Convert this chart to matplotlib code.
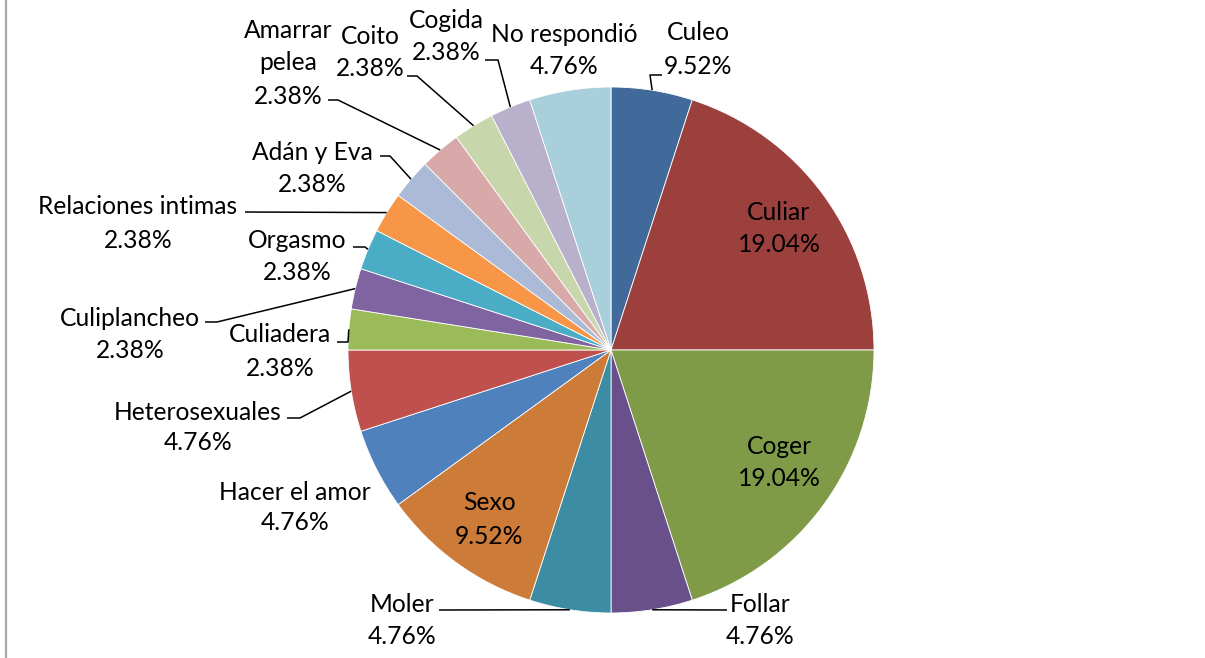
import matplotlib
matplotlib.use("Agg")
import matplotlib.pyplot as plt
import numpy as np
from matplotlib.lines import Line2D

# ---- data ----
categories = ["Culeo", "Culiar", "Coger", "Follar", "Moler", "Sexo",
              "Hacer el amor", "Heterosexuales", "Culiadera", "Culiplancheo",
              "Orgasmo", "Relaciones intimas", "Adán y Eva", "Amarrar\npelea",
              "Coito", "Cogida", "No respondió"]
counts = [2, 8, 8, 2, 2, 4, 2, 2, 1, 1, 1, 1, 1, 1, 1, 1, 2]
pct_labels = ["9.52%", "19.04%", "19.04%", "4.76%", "4.76%", "9.52%",
              "4.76%", "4.76%", "2.38%", "2.38%", "2.38%", "2.38%", "2.38%",
              "2.38%", "2.38%", "2.38%", "4.76%"]

colors = ["#416A9B", "#9C403E", "#7F9B48", "#69508A", "#3C8DA3", "#CC7B38",
          "#4F81BD", "#C0504D", "#9BBB59", "#8064A2", "#4BACC6", "#F79646",
          "#AABAD7", "#D9A9A9", "#C8D6AB", "#B9B0CC", "#A9CEDC"]

W, H = 1205, 658
fig = plt.figure(figsize=(W / 100, H / 100), dpi=100)
ax = fig.add_axes([0, 0, 1, 1])

cx, cy, R = 611, 350, 263  # pixel coords (y from top)

def P(x, y):
    return x, H - y

wedges, _ = ax.pie(counts, colors=colors, startangle=90, counterclock=False,
                   center=P(cx, cy), radius=R,
                   wedgeprops=dict(linewidth=0.6, edgecolor="white"))
ax.set_xlim(0, W)
ax.set_ylim(0, H)
ax.set_aspect("equal")
ax.axis("off")

FONT = "Lato"
FS = 17.7

# layout: label line positions (x center, y of each line) in pixels
layout = {
    0: (698, [33, 66]),
    1: (779, [212, 245]),
    2: (779, [446, 478]),
    3: (760, [604, 636]),
    4: (402, [605, 637]),
    5: (489, [503, 536]),
    6: (295, [492, 523]),
    7: (198, [412, 443]),
    8: (280, [335, 368]),
    9: (130, [318, 350]),
    10: (297, [240, 272]),
    11: (138, [206, 240]),
    12: (312, [153, 185]),
    13: (288, [30, 63, 97]),
    14: (370, [36, 68]),
    15: (446, [20, 53]),
    16: (564, [34, 67]),
}
# leader lines: list of points starting near label, ending on wedge edge
leaders = {
    0: [(662, 75), (650, 75)],
    3: [(727, 610)],
    4: [(439, 610)],
    7: [(287, 418), (300, 418)],
    8: [(337, 342), (348, 342)],
    9: [(205, 322), (217, 322)],
    10: [(353, 247), (365, 247)],
    11: [(245, 212)],
    12: [(380, 156), (390, 156)],
    13: [(328, 100), (338, 100)],
    14: [(407, 76), (417, 76)],
    15: [(485, 60), (498, 60)],
}

for i, w in enumerate(wedges):
    x, ys = layout[i]
    lines = categories[i].split("\n") + [pct_labels[i]]
    for txt, y in zip(lines, ys):
        ax.text(*P(x, y), txt, ha="center", va="center", fontsize=FS,
                family=FONT, color="black")
    if i in leaders:
        th = np.deg2rad((w.theta1 + w.theta2) / 2)
        ex = w.center[0] + w.r * np.cos(th)
        ey = w.center[1] + w.r * np.sin(th)
        pts = [P(a, b) for a, b in leaders[i]] + [(ex, ey)]
        xs, yv = zip(*pts)
        ax.plot(xs, yv, color="black", lw=1.1, solid_capstyle="butt")

# left border
fig.add_artist(Line2D([5.5 / W, 5.5 / W], [0, 1], transform=fig.transFigure,
                      color="#A6A6A6", lw=1.6))

fig.savefig("out.png", dpi=100)
